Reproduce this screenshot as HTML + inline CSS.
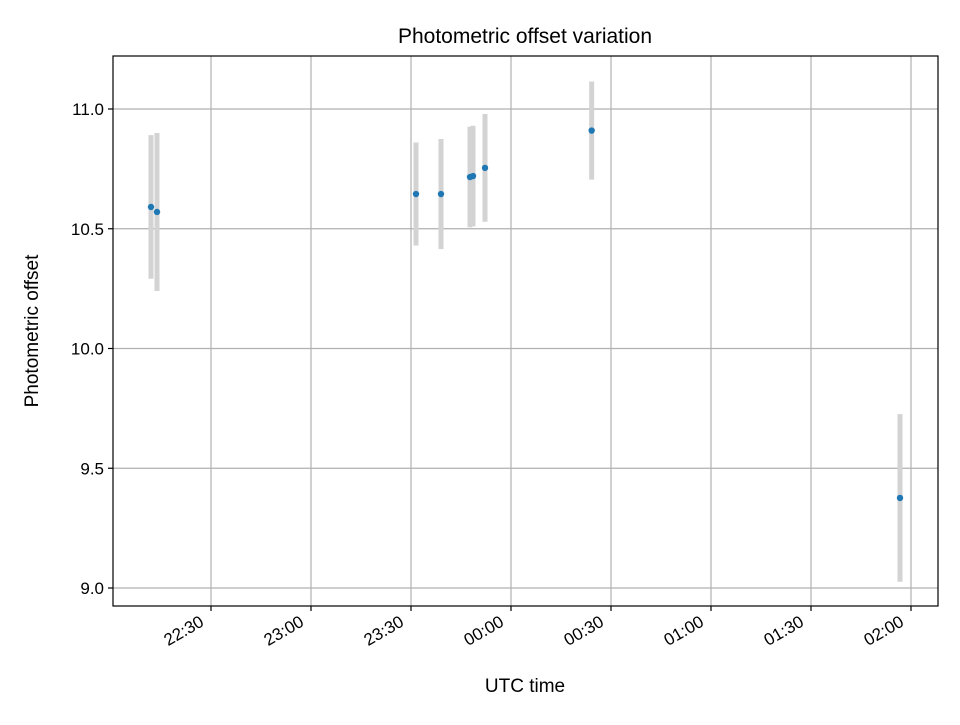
<!DOCTYPE html>
<html><head><meta charset="utf-8"><style>
body{margin:0;background:#fff;}
svg text{font-family:"Liberation Sans","DejaVu Sans",sans-serif;fill:#000;}
</style></head><body>
<svg id="chart" width="960" height="720" xmlns="http://www.w3.org/2000/svg">
<rect width="960" height="720" fill="#fff"/>
<text x="525" y="43" font-size="21" text-anchor="middle">Photometric offset variation</text>
<g id="grid"></g>
<g id="errs"></g>
<g id="pts"></g>
<g id="axes"></g>
<rect x="113" y="56" width="825" height="550" fill="none" stroke="#000" stroke-width="1.2"/>
<text x="525" y="692" font-size="19" text-anchor="middle">UTC time</text>
<text transform="translate(38,331) rotate(-90)" font-size="19" text-anchor="middle">Photometric offset</text>
</svg>
<script>
// minutes since 22:00 UTC
const times=[12,13.8,31.5+60,39+60,47.7+60,48.6+60,52.2+60,144.2,236.7];
const offsets=[10.591,10.570,10.645,10.645,10.716,10.720,10.754,10.91,9.376];
const errors=[0.30,0.33,0.215,0.23,0.21,0.21,0.225,0.205,0.35];
const xTickMinutes=[30,60,90,120,150,180,210,240];
const xTickLabels=["22:30","23:00","23:30","00:00","00:30","01:00","01:30","02:00"];
const yTicks=[9.0,9.5,10.0,10.5,11.0];
const yTickLabels=["9.0","9.5","10.0","10.5","11.0"];
const NS="http://www.w3.org/2000/svg";
const L=113,R=938,T=56,B=606;
const xs=m=>211+(m-30)*100/30;
const ys=v=>109+(11-v)*239.5;
function mk(tag,attrs,parent){const e=document.createElementNS(NS,tag);for(const k in attrs)e.setAttribute(k,attrs[k]);document.getElementById(parent).appendChild(e);return e;}
xTickMinutes.forEach((m,i)=>{
 const x=xs(m);
 const g=mk('line',{x1:x,x2:x,y1:T,y2:B,stroke:'#b0b0b0','stroke-width':1.2},'grid');
 
 
 const t=mk('line',{x1:x,x2:x,y1:B,y2:B+5,stroke:'#000','stroke-width':1.2},'axes');
 
 
 const lb=mk('text',{x:0,y:0,'font-size':17,'text-anchor':'end',transform:`translate(${x-6},${B+19}) rotate(-30)`},'axes');
 lb.textContent=xTickLabels[i];
 
 
});
yTicks.forEach((v,i)=>{
 const y=ys(v);
 const g=mk('line',{x1:L,x2:R,y1:y,y2:y,stroke:'#b0b0b0','stroke-width':1.2},'grid');
 
 
 const t=mk('line',{x1:L-5,x2:L,y1:y,y2:y,stroke:'#000','stroke-width':1.2},'axes');
 
 
 const lb=mk('text',{x:L-9,y:y+6,'font-size':17,'text-anchor':'end'},'axes');
 lb.textContent=yTickLabels[i];
 
 
});
times.forEach((m,i)=>{
 const x=xs(m);
 const e=mk('line',{x1:x,x2:x,y1:ys(offsets[i]+errors[i]),y2:ys(offsets[i]-errors[i]),stroke:'#d3d3d3','stroke-width':5},'errs');
 
 
 const p=mk('circle',{cx:x,cy:ys(offsets[i]),r:3.2,fill:'#1f77b4'},'pts');
 
 
});
</script>
</body></html>
